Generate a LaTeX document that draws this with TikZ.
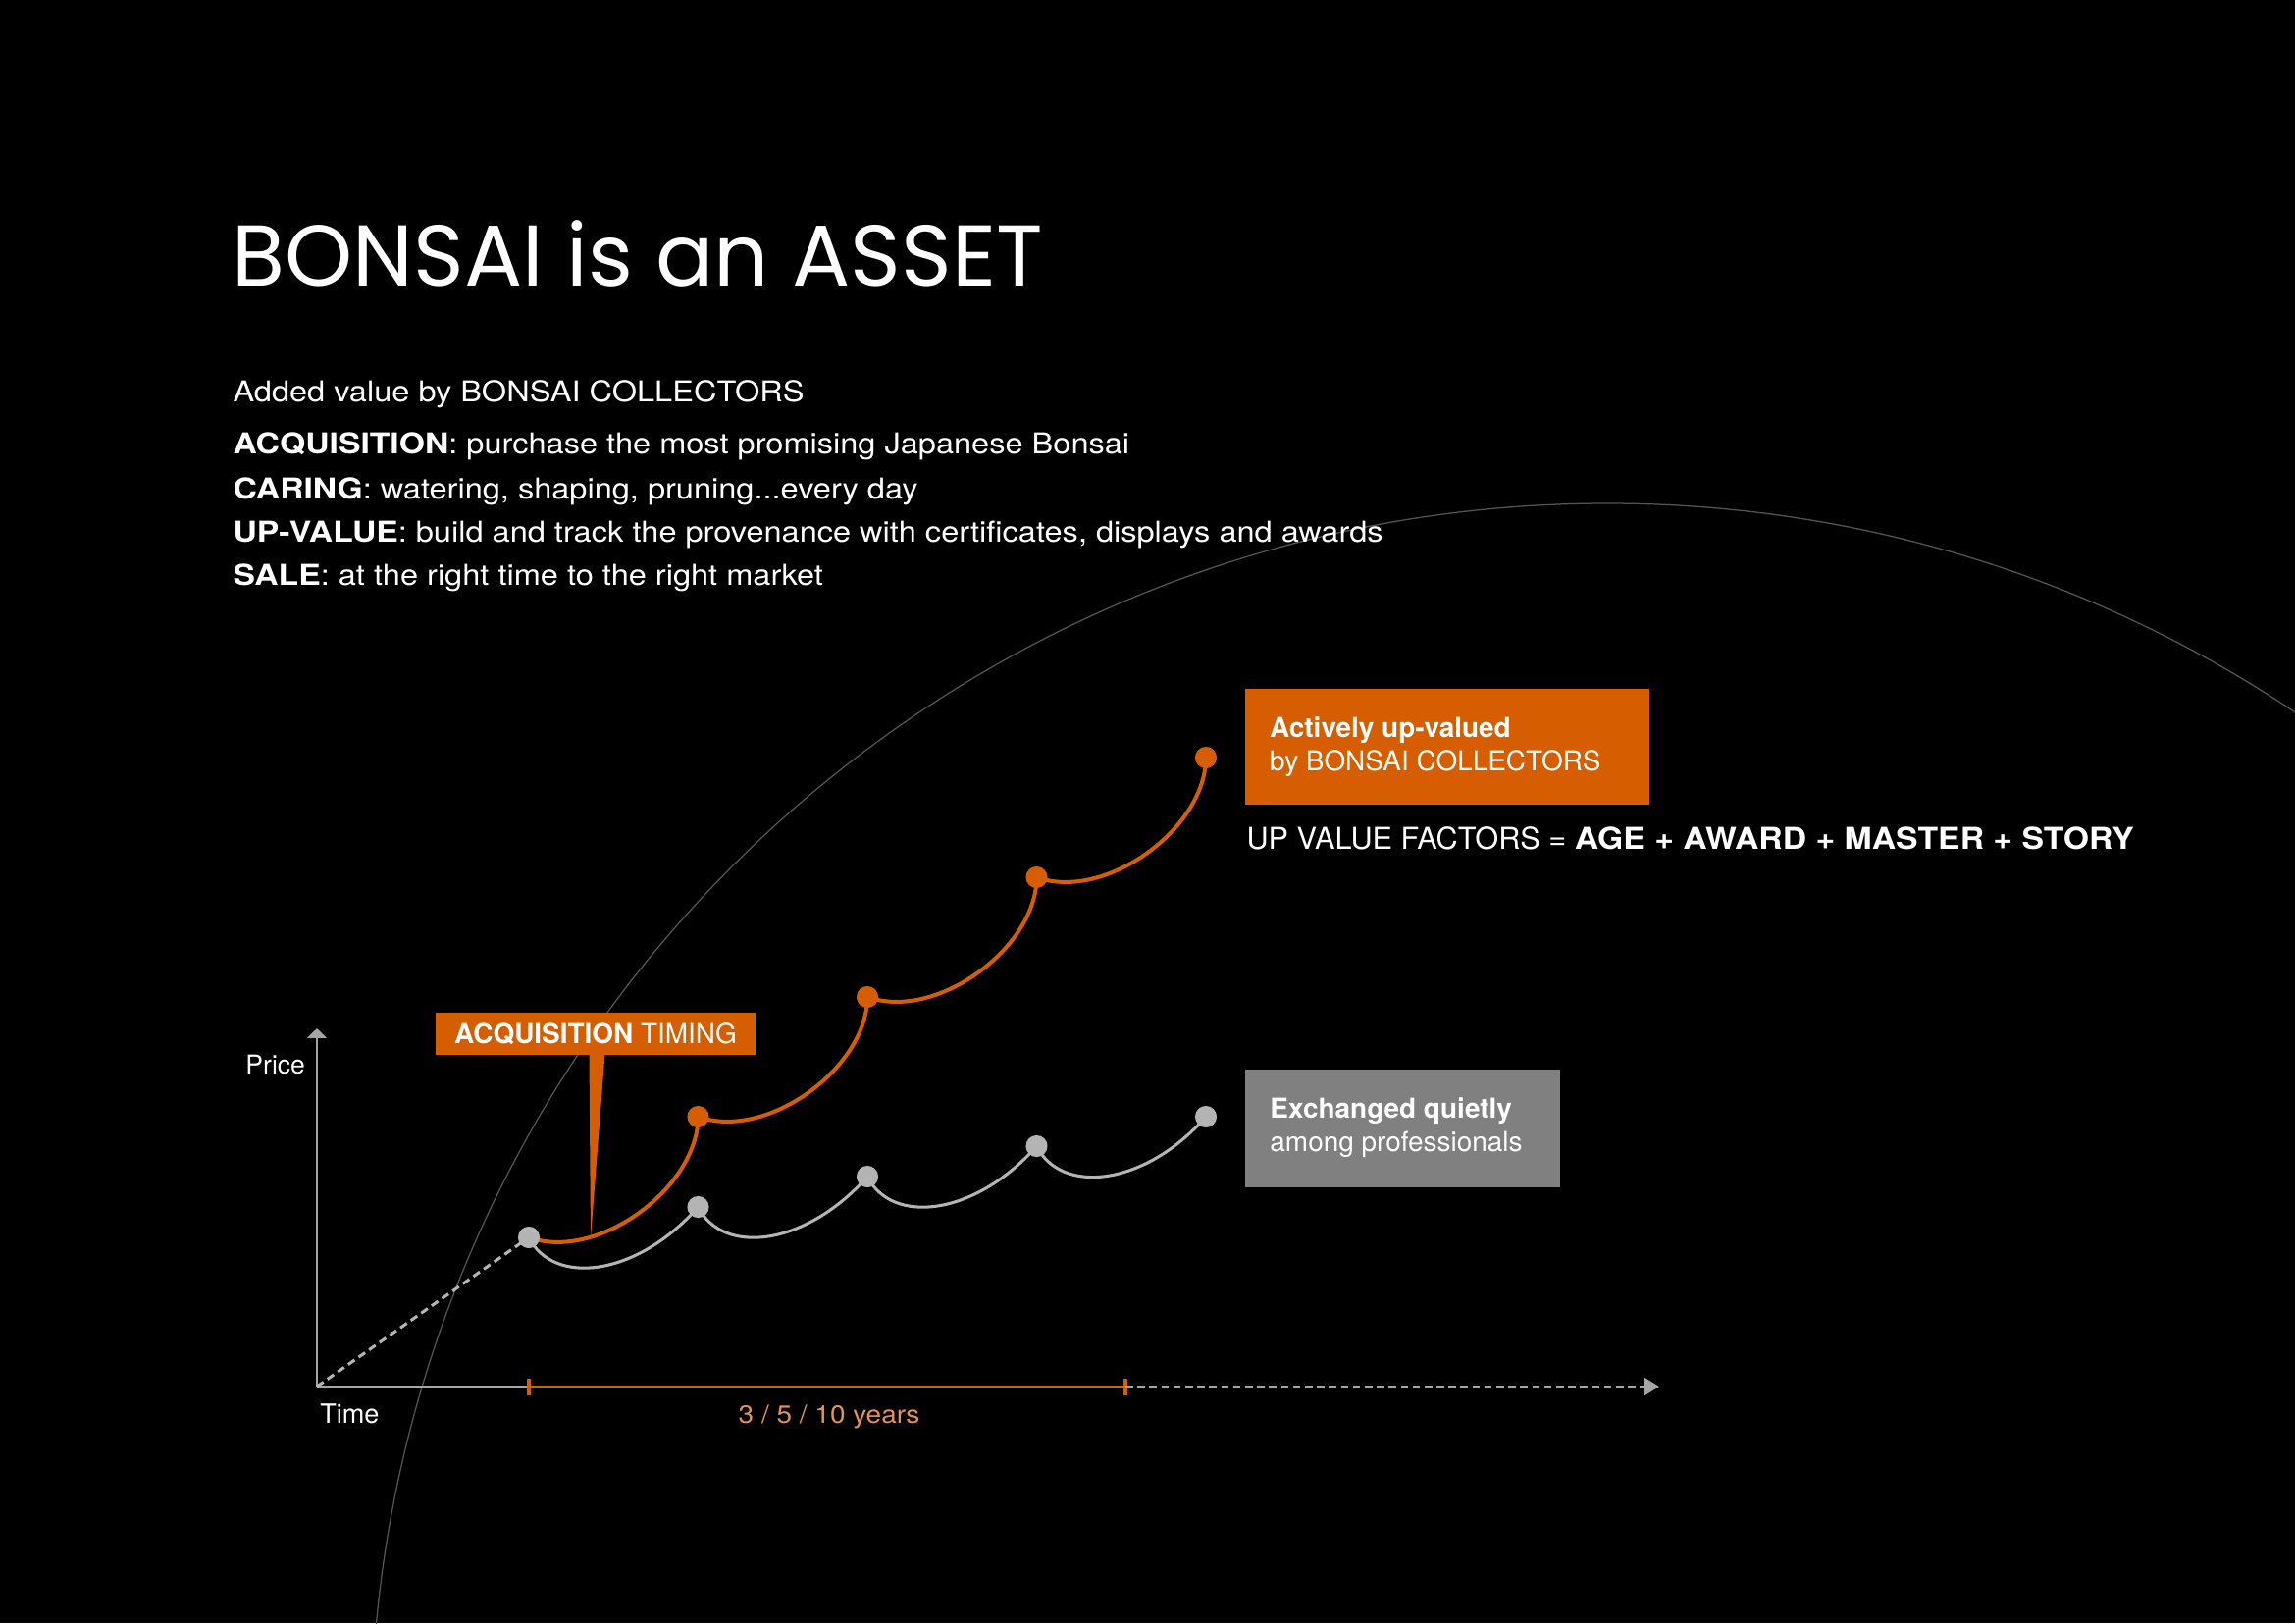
\documentclass[tikz,border=0pt]{standalone}
\usepackage{fontspec}
\setmainfont{TeX Gyre Heros}
\newfontfamily\titlefont{Poppins}
\newfontfamily\bodyfont{TeX Gyre Heros}[FakeStretch=1.11]
\newfontfamily\bodyboldfont{TeX Gyre Heros}[FakeStretch=1.15]
\newfontfamily\factboldfont{TeX Gyre Heros}[FakeStretch=1.1]
\newfontfamily\yearsfont{TeX Gyre Heros}[FakeStretch=1.1]
\newcommand{\bodyB}[1]{{\bodyboldfont\bfseries #1}}
\usetikzlibrary{arrows.meta}
\definecolor{accent}{RGB}{214,94,0}
\definecolor{lgray}{RGB}{180,180,180}
\definecolor{axisgray}{RGB}{165,165,165}
\definecolor{arcgray}{RGB}{85,85,85}
\definecolor{boxgray}{RGB}{128,128,128}
\definecolor{yearsorange}{RGB}{232,145,85}
\pgfdeclarelayer{bottom}
\pgfdeclarelayer{bglayer}
\pgfsetlayers{bottom,bglayer,main}
\begin{document}
\begin{tikzpicture}[x=0.3616pt, y=-0.3616pt,
  txt/.style={anchor=base west, inner sep=0pt, text=white, font=\bodyfont\fontsize{10.6}{12}\selectfont},
  boxtxt/.style={anchor=base west, inner sep=0pt, text=white, font=\fontsize{10.1}{12}\selectfont},
  dotg/.style={circle, fill=lgray, inner sep=0pt, minimum size=8pt},
  doto/.style={circle, fill=accent, inner sep=0pt, minimum size=8pt},
  gcurve/.style={draw=lgray, line width=1.1pt},
  ocurve/.style={draw=accent, line width=1.45pt},
  axisline/.style={draw=axisgray, line width=0.55pt},
  colbox/.style={anchor=north west, inner sep=0pt, draw=none}
]
\begin{pgfonlayer}{bottom}
\fill[black] (0,0) rectangle (2339,1654);
\end{pgfonlayer}
\useasboundingbox (0,0) rectangle (2339,1654);

% title and text block
\node[anchor=base west, inner sep=0pt, text=white, font=\titlefont\fontsize{31.8}{36}\selectfont] (title) at (236,291) {BONSAI is an ASSET};
\node[txt] (l0) at (237,409.3) {Added value by BONSAI COLLECTORS};
\node[txt] (l1) at (237,462.7) {\bodyB{ACQUISITION}: purchase the most promising Japanese Bonsai};
\node[txt] (l2) at (237,508.3) {\bodyB{CARING}: watering, shaping, pruning...every day};
\node[txt] (l3) at (237,552.7) {\bodyB{UP-VALUE}: build and track the provenance with certificates, displays and awards};
\node[txt] (l4) at (237,596.7) {\bodyB{SALE}: at the right time to the right market};

% axes
\coordinate (O) at (323,1413);
\coordinate (ytop) at (323,1048);
\coordinate (t1) at (539,1413);
\coordinate (t2) at (1147,1413);
\coordinate (xend) at (1691,1413);

% dots
\node[dotg] (g1) at (539,1261) {};
\node[dotg] (g2) at (711.5,1230) {};
\node[dotg] (g3) at (884,1199) {};
\node[dotg] (g4) at (1056.5,1168) {};
\node[dotg] (g5) at (1229,1138) {};
\node[doto] (o2) at (711.5,1138) {};
\node[doto] (o3) at (884,1016) {};
\node[doto] (o4) at (1056.5,894) {};
\node[doto] (o5) at (1229,772) {};

% boxes
\node[colbox, fill=accent, minimum width=149.3pt, minimum height=43pt] (upbox) at (1268,701) {};
\node[boxtxt] (upA) at (1293.6,751.7) {\textbf{Actively up-valued}};
\node[boxtxt] (upB) at (1293.6,785) {by BONSAI COLLECTORS};
\node[boxtxt, font=\fontsize{11.1}{13}\selectfont] (factors) at (1270,865) {UP VALUE FACTORS = {\factboldfont\bfseries AGE + AWARD + MASTER + STORY}};

\node[colbox, fill=boxgray, minimum width=116.4pt, minimum height=43.4pt] (exbox) at (1268,1089) {};
\node[boxtxt] (exA) at (1293.9,1139.3) {\textbf{Exchanged quietly}};
\node[boxtxt] (exB) at (1293.9,1173.3) {among professionals};

\node[fill=accent, inner sep=0pt, minimum width=117.9pt, minimum height=15.5pt, text=white, font=\fontsize{10.1}{12}\selectfont] (acq) at (607,1053.5) {\textbf{ACQUISITION} TIMING};
\coordinate (tip) at (602,1262);
\fill[accent] (600.5,1074) -- (616.5,1074) -- (tip) -- cycle;

% axis labels
\node[anchor=base east, inner sep=0pt, text=white, font=\fontsize{9.6}{12}\selectfont] (price) at (311.5,1094) {Price};
\node[anchor=base west, inner sep=0pt, text=white, font=\fontsize{9.8}{12}\selectfont] (time) at (325.7,1450.7) {Time};
\node[anchor=base, inner sep=0pt, text=yearsorange, font=\yearsfont\fontsize{9.2}{12}\selectfont] (years) at (845,1450.7) {3 / 5 / 10 years};

\begin{pgfonlayer}{bglayer}
  \begin{scope}
    \clip (0,0) rectangle (2339,1654);
    \draw[arcgray, line width=0.45pt] (1638,1773) circle[radius=1260];
  \end{scope}
  \draw[axisline, -{Triangle[length=3.6pt,width=7.2pt]}] (O) -- (ytop);
  \draw[axisline] (O) -- (t1);
  \draw[accent, line width=1pt] (t1) -- (t2);
  \draw[accent, line width=1.1pt] (539,1404.5) -- (539,1421.5);
  \draw[accent, line width=1.1pt] (1147,1404.5) -- (1147,1421.5);
  \draw[axisline, dash pattern=on 2.75pt off 1.66pt, -{Triangle[length=5.4pt,width=6.5pt]}] (t2) -- (xend);
  \draw[lgray, line width=1.1pt, dash pattern=on 2.9pt off 1.8pt] (O) -- (g1.center);
  % gray path
  \draw[gcurve] (g1.center) .. controls +(25,50) and +(-62.5,71) .. (g2.center);
  \draw[gcurve] (g2.center) .. controls +(25,50) and +(-62.5,71) .. (g3.center);
  \draw[gcurve] (g3.center) .. controls +(25,50) and +(-62.5,71) .. (g4.center);
  \draw[gcurve] (g4.center) .. controls +(25,50) and +(-62.5,71) .. (g5.center);
  % orange path
  \draw[ocurve] (g1.center) .. controls +(70,25) and +(0,72) .. (o2.center);
  \draw[ocurve] (o2.center) .. controls +(70,25) and +(0,72) .. (o3.center);
  \draw[ocurve] (o3.center) .. controls +(70,25) and +(0,72) .. (o4.center);
  \draw[ocurve] (o4.center) .. controls +(70,25) and +(0,72) .. (o5.center);
\end{pgfonlayer}
\end{tikzpicture}
\end{document}
